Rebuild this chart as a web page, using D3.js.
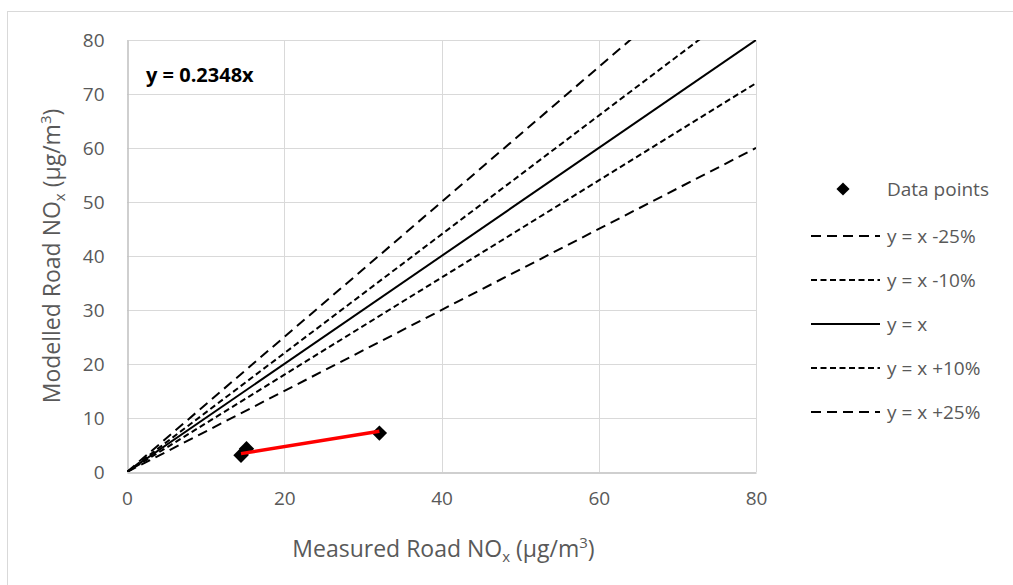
<!doctype html>
<html lang="en">
	<head>
		<meta charset="UTF-8">
		<title>Modelled vs Measured Road NOx</title>
		<style>
			body { margin: 0; background: #fff; }
			svg { font-family: "Open Sans", sans-serif; }
			.tick text { fill: #595959; font-size: 19px; font-family: "Open Sans", sans-serif; }
			.grid line { stroke: #d9d9d9; }
		</style>
	</head>
	<body>
		<svg id="chart"></svg>

		<script src="https://d3js.org/d3.v7.min.js"></script>
		<script>

			// Data set
			var measured = [14.5, 15.2, 32.1];
			var modelled = [3.1, 4.3, 7.2];
			var slope = 0.2348;
			var ticks = [0, 10, 20, 30, 40, 50, 60, 70, 80];
			var xTicks = [0, 20, 40, 60, 80];

			// reference lines y = k * x
			var refNames = ["y = x -25%", "y = x -10%", "y = x", "y = x +10%", "y = x +25%"];
			var refFactors = [0.75, 0.9, 1, 1.1, 1.25];
			var refDash = ["10,6", "6,3.5", null, "6,3.5", "10,6"];

			var svgWidth = 1013, svgHeight = 585;
			var plotLeft = 127, plotRight = 756, plotTop = 40, plotBottom = 472;

			var svg = d3.select("#chart")
				.attr("width", svgWidth)
				.attr("height", svgHeight);

			// outer chart border
			svg.append("rect")
				.attr("x", 7.5).attr("y", 11.5)
				.attr("width", 1020).attr("height", 600)
				.attr("fill", "none")
				.attr("stroke", "#d9d9d9");

			var x = d3.scaleLinear().domain([0, 80]).range([plotLeft, plotRight]);
			var y = d3.scaleLinear().domain([0, 80]).range([plotBottom, plotTop]);

			// grid
			svg.append("g").attr("class", "grid")
				.selectAll("line").data(ticks.slice(1)).enter()
				.append("line")
				.attr("x1", plotLeft).attr("x2", plotRight)
				.attr("y1", function(d) { return Math.round(y(d)) + 0.5; })
				.attr("y2", function(d) { return Math.round(y(d)) + 0.5; });
			svg.append("g").attr("class", "grid")
				.selectAll("line").data(xTicks.slice(1)).enter()
				.append("line")
				.attr("y1", plotTop).attr("y2", plotBottom)
				.attr("x1", function(d) { return Math.round(x(d)) + 0.5; })
				.attr("x2", function(d) { return Math.round(x(d)) + 0.5; });

			// axes
			var xAxis = svg.append("g")
				.attr("transform", "translate(0," + (plotBottom + 0.5) + ")")
				.call(d3.axisBottom(x).tickValues(xTicks).tickSize(0).tickPadding(19));
			xAxis.select(".domain").attr("stroke", "#bfbfbf").attr("stroke-width", 1.5);

			var yAxis = svg.append("g")
				.attr("transform", "translate(" + (plotLeft + 0.5) + ",0)")
				.call(d3.axisLeft(y).tickValues(ticks).tickSize(0).tickPadding(23));
			yAxis.select(".domain").attr("stroke", "#bfbfbf").attr("stroke-width", 1.5);

			// clip for the reference lines
			svg.append("clipPath").attr("id", "plot")
				.append("rect")
				.attr("x", plotLeft).attr("y", plotTop)
				.attr("width", plotRight - plotLeft).attr("height", plotBottom - plotTop);

			var line = d3.line()
				.x(function(d) { return x(d[0]); })
				.y(function(d) { return y(d[1]); });

			svg.append("g").attr("clip-path", "url(#plot)")
				.selectAll("path").data(refFactors).enter()
				.append("path")
				.attr("d", function(k) { return line([[0, 0], [80, 80 * k]]); })
				.attr("fill", "none")
				.attr("stroke", "#000")
				.attr("stroke-width", 2)
				.attr("stroke-dasharray", function(k, i) { return refDash[i]; });

			// data points
			var diamond = d3.symbol().type(d3.symbolDiamond2).size(150);
			svg.selectAll("path.pt")
				.data(measured).enter()
				.append("path")
				.attr("class", "pt")
				.attr("d", diamond)
				.attr("fill", "#000")
				.attr("transform", function(d, i) {
					return "translate(" + x(d) + "," + y(modelled[i]) + ")";
				});

			// trendline over the data range
			var xMin = d3.min(measured), xMax = d3.max(measured);
			svg.append("path")
				.attr("d", line([[xMin, slope * xMin], [xMax, slope * xMax]]))
				.attr("stroke", "#ff0000")
				.attr("stroke-width", 3.5)
				.attr("fill", "none");

			svg.append("text")
				.attr("x", 146).attr("y", 82)
				.attr("font-size", 20).attr("font-weight", "bold")
				.attr("fill", "#000")
				.text("y = " + slope + "x");

			// axis titles
			var xt = svg.append("text")
				.attr("x", (plotLeft + plotRight) / 2 + 2).attr("y", 557)
				.attr("text-anchor", "middle")
				.attr("font-size", 23).attr("fill", "#595959");
			xt.append("tspan").text("Measured Road NO");
			xt.append("tspan").attr("font-size", 15).attr("dy", 5).text("x");
			xt.append("tspan").attr("dy", -5).text(" (µg/m");
			xt.append("tspan").attr("font-size", 15).attr("dy", -9).text("3");
			xt.append("tspan").attr("dy", 9).text(")");

			var yt = svg.append("text")
				.attr("transform", "translate(60," + ((plotTop + plotBottom) / 2) + ") rotate(-90)")
				.attr("text-anchor", "middle")
				.attr("font-size", 23).attr("fill", "#595959");
			yt.append("tspan").text("Modelled Road NO");
			yt.append("tspan").attr("font-size", 15).attr("dy", 5).text("x");
			yt.append("tspan").attr("dy", -5).text(" (µg/m");
			yt.append("tspan").attr("font-size", 15).attr("dy", -9).text("3");
			yt.append("tspan").attr("dy", 9).text(")");

			// legend
			var legend = svg.append("g").attr("font-size", 19).attr("fill", "#595959");
			legend.append("path")
				.attr("d", d3.symbol().type(d3.symbolDiamond2).size(110))
				.attr("transform", "translate(843,189)")
				.attr("fill", "#000");
			legend.append("text").attr("x", 887).attr("y", 196).text("Data points");

			var rows = legend.selectAll("g.row").data(refNames).enter()
				.append("g")
				.attr("transform", function(d, i) { return "translate(0," + (236 + i * 44) + ")"; });
			rows.append("line")
				.attr("x1", 811).attr("x2", 880)
				.attr("stroke", "#000").attr("stroke-width", 2)
				.attr("stroke-dasharray", function(d, i) { return refDash[i]; });
			rows.append("text").attr("x", 887).attr("y", 7).text(function(d) { return d; });

		</script>
	</body>
</html>
